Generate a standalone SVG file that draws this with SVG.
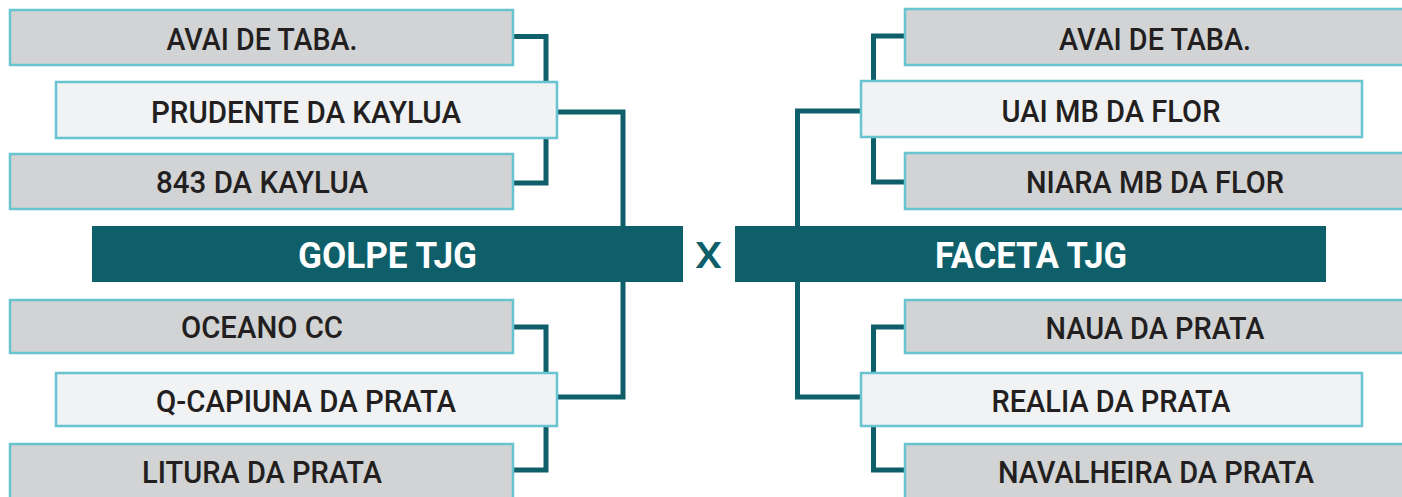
<svg xmlns="http://www.w3.org/2000/svg" width="1402" height="497" viewBox="0 0 1402 497">
<style>
.g{fill:#d1d3d4;stroke:#67c4d0;stroke-width:2.5}
.l{fill:#f0f2f4;stroke:#67c4d0;stroke-width:2.5}
.t{font-family:Roboto,"Liberation Sans",sans-serif;font-weight:500;font-size:32px;fill:#231f20;text-anchor:middle}
.bar{fill:#0e5f69}
.bt{font-family:Roboto,"Liberation Sans",sans-serif;font-weight:700;font-size:36px;fill:#ffffff;text-anchor:middle}
.c{fill:none;stroke:#0e5f69;stroke-width:5;stroke-linejoin:miter}
</style>
<rect width="1402" height="497" fill="#ffffff"/>
<g id="connectors">
<path class="c" d="M514,36.5 H546 V82"/>
<path class="c" d="M546,138 V183 H514"/>
<path class="c" d="M558,112 H623 V226"/>
<path class="c" d="M514,327 H546 V373"/>
<path class="c" d="M546,426 V470 H514"/>
<path class="c" d="M558,397 H623 V282"/>
<path class="c" d="M904,36 H873.5 V81"/>
<path class="c" d="M873.5,137 V182 H904"/>
<path class="c" d="M860,111 H797.5 V226"/>
<path class="c" d="M904,327 H873.5 V373"/>
<path class="c" d="M873.5,426 V470 H904"/>
<path class="c" d="M860,397 H797.5 V282"/>
</g>
<g id="l1"><rect class="g" x="10" y="10" width="503" height="55"/><text class="t" x="262" y="50" textLength="191" lengthAdjust="spacingAndGlyphs">AVAI DE TABA.</text></g>
<g id="l2"><rect class="l" x="56" y="82" width="501" height="56"/><text class="t" x="306" y="123" textLength="310" lengthAdjust="spacingAndGlyphs">PRUDENTE DA KAYLUA</text></g>
<g id="l3"><rect class="g" x="10" y="154" width="503" height="55"/><text class="t" x="262" y="193" textLength="212" lengthAdjust="spacingAndGlyphs">843 DA KAYLUA</text></g>
<g id="golpe"><rect class="bar" x="92" y="226" width="591" height="56"/><text class="bt" x="387.5" y="268" textLength="179" lengthAdjust="spacingAndGlyphs">GOLPE TJG</text></g>
<g id="l4"><rect class="g" x="10" y="300" width="503" height="53"/><text class="t" x="262" y="338" textLength="162" lengthAdjust="spacingAndGlyphs">OCEANO CC</text></g>
<g id="l5"><rect class="l" x="56" y="373" width="501" height="53"/><text class="t" x="306" y="412" textLength="300" lengthAdjust="spacingAndGlyphs">Q-CAPIUNA DA PRATA</text></g>
<g id="l6"><rect class="g" x="10" y="444" width="503" height="58"/><text class="t" x="262" y="483" textLength="240" lengthAdjust="spacingAndGlyphs">LITURA DA PRATA</text></g>
<g id="vs"><text x="708.5" y="268" style="font-family:Roboto,'Liberation Sans',sans-serif;font-weight:500;font-size:37px;fill:#0e5f69;text-anchor:middle" textLength="27" lengthAdjust="spacingAndGlyphs">X</text></g>
<g id="r1"><rect class="g" x="905" y="9" width="500" height="56"/><text class="t" x="1155" y="50" textLength="192" lengthAdjust="spacingAndGlyphs">AVAI DE TABA.</text></g>
<g id="r2"><rect class="l" x="861" y="81" width="501" height="56"/><text class="t" x="1111" y="122" textLength="219" lengthAdjust="spacingAndGlyphs">UAI MB DA FLOR</text></g>
<g id="r3"><rect class="g" x="905" y="153" width="500" height="56"/><text class="t" x="1155" y="193" textLength="258" lengthAdjust="spacingAndGlyphs">NIARA MB DA FLOR</text></g>
<g id="faceta"><rect class="bar" x="735" y="226" width="591" height="56"/><text class="bt" x="1031" y="268" textLength="192" lengthAdjust="spacingAndGlyphs">FACETA TJG</text></g>
<g id="r4"><rect class="g" x="905" y="300" width="500" height="53"/><text class="t" x="1155" y="339" textLength="219" lengthAdjust="spacingAndGlyphs">NAUA DA PRATA</text></g>
<g id="r5"><rect class="l" x="861" y="373" width="501" height="53"/><text class="t" x="1111" y="412" textLength="239" lengthAdjust="spacingAndGlyphs">REALIA DA PRATA</text></g>
<g id="r6"><rect class="g" x="905" y="444" width="500" height="58"/><text class="t" x="1156" y="483" textLength="316" lengthAdjust="spacingAndGlyphs">NAVALHEIRA DA PRATA</text></g>
</svg>
